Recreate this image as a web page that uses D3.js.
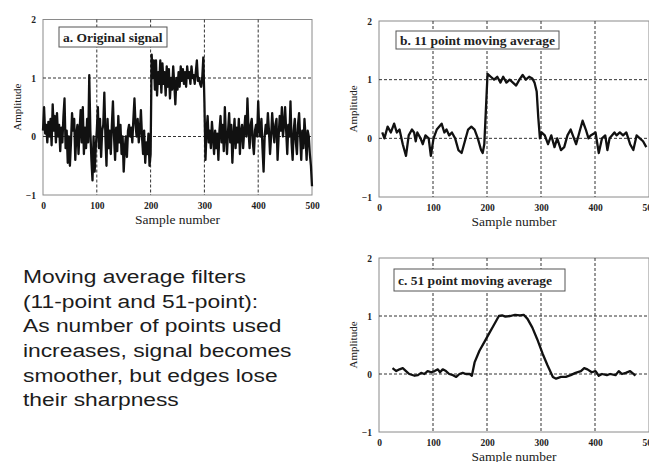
<!DOCTYPE html>
<html>
<head>
<meta charset="utf-8">
<script src="https://cdn.jsdelivr.net/npm/d3@7"></script>
<style>
  body { margin: 0; background: #fff; }
  svg { display: block; }
</style>
</head>
<body>
<div id="chart-div"></div>
<script>
const width = 649;
const height = 462;

// x / y ticks shared by all three panels
const xTicks = [0, 100, 200, 300, 400, 500];
const yTicks = [-1, 0, 1, 2];
const gridX = [100, 200, 300, 400];
const gridY = [0, 1];

// a. original signal, read every 2 samples (0..500)
const origStep = 2;
const origValues = [
  0.1, 0.5, 0.05, 0.2, -0.1, 0.25, 0.0, 0.3, -0.15, 0.55, 0.1, 0.35, -0.1, 0.4, 0.0, 0.2, -0.25, 0.15, -0.1, 0.35, 0.65, -0.2, 0.1, -0.45, 0.0,
  -0.5, -0.1, 0.4, 0.1, 0.3, -0.4, 0.05, 0.2, -0.3, 0.1, 0.45, -0.1, 0.5, -0.3, 0.15, -0.2, 0.3, -0.1, 1.05, 0.1, -0.4, -0.75, 0.0, -0.6, -0.2,
  0.1, 0.5, -0.2, 0.3, -0.35, 0.1, 0.2, 0.75, 0.0, -0.5, 0.3, -0.2, 0.1, -0.3, 0.2, 0.6, 0.0, -0.4, 0.15, -0.25, 0.35, -0.1, 0.2, -0.3, 0.0,
  -0.6, -0.2, 0.0, -0.35, 0.1, 0.2, 0.0, 0.15, -0.1, 0.3, 0.65, 0.2, 0.0, 0.3, -0.1, 0.1, 0.45, 0.0, -0.3, 0.1, -0.45, -0.1, -0.3, 0.05, -0.5,
  -0.3, 1.4, 1.0, 1.3, 0.8, 1.3, 0.7, 1.1, 0.9, 1.3, 0.75, 1.25, 0.9, 1.1, 0.7, 1.2, 0.85, 1.15, 0.65, 1.0, 0.8, 1.2, 0.9, 0.55, 1.0,
  0.8, 1.1, 0.85, 1.2, 0.95, 1.15, 0.9, 1.1, 0.85, 1.2, 1.0, 1.1, 0.9, 1.2, 1.0, 1.05, 0.9, 1.1, 1.3, 0.95, 1.0, 0.9, 0.85, 1.0, 1.35,
  0.6, -0.4, 0.1, 0.35, -0.1, 0.1, -0.2, 0.25, 0.0, -0.3, 0.1, -0.2, 0.05, -0.4, 0.1, 0.35, -0.1, 0.2, -0.25, 0.5, 0.0, -0.3, 0.1, 0.4, -0.1,
  0.2, -0.45, 0.0, 0.3, -0.2, 0.15, -0.1, 0.3, -0.3, 0.1, 0.2, -0.2, 0.1, 0.35, 0.0, 0.65, 0.1, -0.2, 0.2, 0.3, -0.1, -0.3, 0.1, 0.2, 0.0,
  0.6, 0.1, 0.0, 0.3, -0.2, -0.6, 0.0, 0.2, 0.05, 0.4, 0.1, -0.3, 0.0, 0.4, 0.1, -0.1, 0.2, 0.3, -0.4, 0.0, 0.35, 0.1, 0.5, 0.0, 0.2,
  0.5, 0.1, -0.3, 0.2, 0.0, 0.6, -0.1, -0.4, 0.1, 0.3, -0.1, -0.3, 0.2, 0.4, 0.0, -0.4, 0.1, -0.2, 0.3, 0.0, -0.4, 0.1, 0.0, -0.3, -0.5,
  -0.85
];

// b. 11 point moving average
const ma11Samples = [6, 10, 16, 22, 28, 33, 38, 44, 50, 55, 61, 65, 68, 71, 77, 81, 86, 92, 96, 101,
  107, 116, 121, 125, 130, 135, 141, 147, 153, 159, 165, 171, 177, 183, 189, 192, 195, 198, 201, 207,
  213, 219, 225, 230, 236, 242, 248, 254, 260, 266, 272, 278, 284, 288, 292, 295, 298, 301, 307, 313,
  319, 325, 330, 337, 343, 349, 355, 359, 365, 371, 377, 383, 388, 392, 401, 407, 413, 419, 423, 427,
  436, 440, 446, 452, 458, 465, 471, 477, 483, 489, 495];
const ma11Values = [0.1, 0.0, 0.2, 0.1, 0.25, 0.1, 0.15, -0.1, -0.3, 0.05, 0.15, 0.1, -0.05, 0.1, 0.0, -0.1, 0.05, 0.0, -0.3, 0.0,
  0.15, 0.25, 0.1, 0.15, 0.05, 0.1, 0.0, -0.2, -0.25, -0.05, 0.15, 0.2, 0.15, 0.0, -0.2, -0.25, -0.1, 0.5, 1.1, 1.05,
  1.0, 1.05, 0.95, 1.05, 0.95, 1.0, 0.95, 0.9, 1.0, 1.08, 1.0, 1.05, 1.02, 0.95, 0.8, 0.35, 0.0, 0.1, 0.05, -0.1,
  0.05, -0.15, 0.0, -0.2, -0.15, 0.05, 0.15, 0.05, -0.1, 0.1, 0.3, 0.15, 0.0, 0.05, 0.1, -0.25, 0.0, 0.05, -0.2, 0.0,
  0.1, 0.05, 0.1, 0.05, 0.1, -0.1, -0.2, 0.05, 0.0, -0.05, -0.15];

// c. 51 point moving average
const ma51Samples = [25, 32, 38, 44, 50, 56, 66, 72, 78, 84, 90, 97, 103, 109, 113, 118, 124, 130, 137, 143,
  149, 155, 161, 168, 172, 177, 186, 195, 204, 213, 222, 228, 234, 243, 252, 261, 268, 275, 284, 293,
  303, 312, 322, 328, 337, 346, 355, 364, 374, 380, 386, 394, 401, 407, 413, 422, 428, 438, 444, 450,
  457, 465, 475];
const ma51Values = [0.1, 0.05, 0.08, 0.1, 0.05, 0.0, -0.03, -0.02, 0.02, 0.0, 0.05, 0.03, 0.05, 0.08, 0.03, 0.08, 0.05, 0.0, -0.02, -0.05,
  0.0, 0.02, 0.0, 0.0, -0.03, 0.2, 0.4, 0.55, 0.7, 0.85, 1.0, 1.01, 0.99, 1.0, 1.02, 1.01, 1.02, 0.95, 0.8, 0.6,
  0.35, 0.15, -0.05, -0.08, -0.05, -0.05, -0.02, 0.02, 0.05, 0.1, 0.08, 0.03, 0.05, -0.03, 0.0, -0.02, 0.0, -0.02, 0.05, 0.0,
  0.02, 0.05, -0.03];

const noteLines = [
  "Moving average filters",
  "(11-point and 51-point):",
  "As number of points used",
  "increases, signal becomes",
  "smoother, but edges lose",
  "their sharpness"
];

const panels = [
  { id: "a", label: "a.  Original signal", left: 43, right: 312, top: 19.5, bottom: 195,
    box: [59, 27, 108, 20],
    xs: origValues.map((v, i) => i * origStep), ys: origValues, lineWidth: 2.3 },
  { id: "b", label: "b.  11 point moving average", left: 379, right: 649, top: 21, bottom: 197,
    box: [396, 31, 163, 18],
    xs: ma11Samples, ys: ma11Values, lineWidth: 2.3 },
  { id: "c", label: "c.  51 point moving average", left: 379, right: 649, top: 258, bottom: 432,
    box: [394, 269, 171, 22],
    xs: ma51Samples, ys: ma51Values, lineWidth: 2.3 }
];

const serif = "'Liberation Serif', 'DejaVu Serif', serif";

var svg = d3
  .select("#chart-div")
  .append("svg")
  .attr("width", width)
  .attr("height", height)
  .attr("viewBox", "0 0 " + width + " " + height);

panels.forEach(function (p) {
  drawPanel(p);
});
drawNote();

function drawPanel(p) {
  var x = d3.scaleLinear().domain([0, 500]).range([p.left, p.right]);
  var y = d3.scaleLinear().domain([-1, 2]).range([p.bottom, p.top]);

  var g = svg.append("g").attr("id", "panel-" + p.id);

  // frame
  g.append("rect")
    .attr("x", p.left)
    .attr("y", p.top)
    .attr("width", p.right - p.left)
    .attr("height", p.bottom - p.top)
    .attr("fill", "none")
    .attr("stroke", "#8a8a8a")
    .attr("stroke-width", 1);

  // dashed grid
  g.selectAll(".grid-x")
    .data(gridX)
    .enter()
    .append("line")
    .attr("x1", (d) => x(d))
    .attr("x2", (d) => x(d))
    .attr("y1", p.top)
    .attr("y2", p.bottom)
    .attr("stroke", "#333")
    .attr("stroke-width", 1)
    .attr("stroke-dasharray", "3,2");

  g.selectAll(".grid-y")
    .data(gridY)
    .enter()
    .append("line")
    .attr("x1", p.left)
    .attr("x2", p.right)
    .attr("y1", (d) => y(d))
    .attr("y2", (d) => y(d))
    .attr("stroke", "#333")
    .attr("stroke-width", 1)
    .attr("stroke-dasharray", "3,2");

  // axes (labels only, frame drawn above)
  var xAxis = g
    .append("g")
    .attr("transform", "translate(0," + (p.bottom + 3) + ")")
    .call(d3.axisBottom(x).tickValues(xTicks).tickSize(0).tickPadding(4));
  var yAxis = g
    .append("g")
    .attr("transform", "translate(" + (p.left - 3) + ",0)")
    .call(d3.axisLeft(y).tickValues(yTicks).tickSize(0).tickPadding(4).tickFormat(d3.format("d")));
  [xAxis, yAxis].forEach(function (ax) {
    ax.select(".domain").remove();
    ax.selectAll("text")
      .attr("font-family", serif)
      .attr("font-size", 9.5)
      .attr("font-weight", "bold")
      .attr("fill", "#222");
  });

  g.append("text")
    .attr("x", (p.left + p.right) / 2)
    .attr("y", p.bottom + 29)
    .attr("text-anchor", "middle")
    .attr("font-family", serif)
    .attr("font-size", 13.5)
    .attr("fill", "#222")
    .text("Sample number");

  g.append("text")
    .attr("transform", "translate(" + (p.left - 22) + "," + (y(0.5)) + ") rotate(-90)")
    .attr("text-anchor", "middle")
    .attr("font-family", serif)
    .attr("font-size", 11)
    .attr("fill", "#222")
    .text("Amplitude");

  // signal
  var line = d3
    .line()
    .x((d) => x(d[0]))
    .y((d) => y(d[1]));

  g.append("path")
    .datum(p.xs.map((v, i) => [v, p.ys[i]]))
    .attr("d", line)
    .attr("fill", "none")
    .attr("stroke", "#111")
    .attr("stroke-width", p.lineWidth)
    .attr("stroke-linejoin", "round");

  // label box
  g.append("rect")
    .attr("x", p.box[0])
    .attr("y", p.box[1])
    .attr("width", p.box[2])
    .attr("height", p.box[3])
    .attr("fill", "#fff")
    .attr("stroke", "#555")
    .attr("stroke-width", 1);

  g.append("text")
    .attr("x", p.box[0] + 4)
    .attr("y", p.box[1] + p.box[3] / 2 + 4.5)
    .attr("font-family", serif)
    .attr("font-size", 13.5)
    .attr("font-weight", "bold")
    .attr("fill", "#222")
    .text(p.label);
}

function drawNote() {
  var note = svg
    .append("g")
    .attr("id", "note")
    .attr("transform", "translate(23,0) scale(1.2,1)");

  note
    .selectAll("text")
    .data(noteLines)
    .enter()
    .append("text")
    .attr("x", 0)
    .attr("y", (d, i) => 283 + i * 24.7)
    .attr("font-family", "'Liberation Sans', Arial, sans-serif")
    .attr("font-size", 19)
    .attr("fill", "#1c1c1c")
    .text((d) => d);
}
</script>
</body>
</html>
